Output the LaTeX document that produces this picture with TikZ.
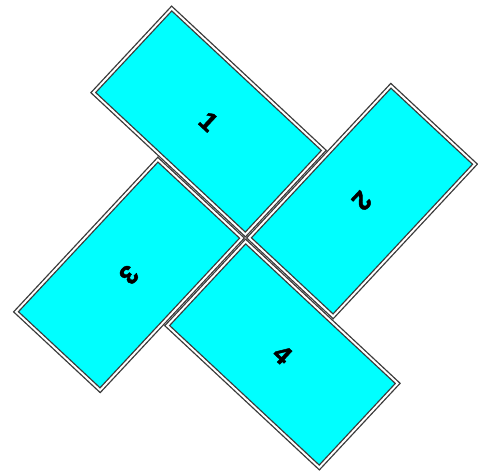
\documentclass[tikz,border=0pt]{standalone}
\usepackage{fontspec}
\setmainfont{Liberation Sans}
\newfontfamily\tilefont{Liberation Sans}[BoldFeatures={FakeBold=1.6}]
\usepackage{tikz}
\definecolor{Tile}{HTML}{00FFFF}
\definecolor{Edge}{HTML}{3A3A3A}
\tikzset{
  tile/.style={draw=Edge,double=white,double distance=1.1pt,line width=.75pt,fill=Tile,minimum width=4.16cm,minimum height=2.30cm,inner sep=0pt,font=\tilefont\fontsize{15}{15}\selectfont\bfseries},
  along/.style={tile,rotate=-43},
  across/.style={tile,rotate=-133}
}
\begin{document}
\begin{tikzpicture}
      \useasboundingbox (-4.91,-4.72) rectangle (4.65,4.76);
      \node[along] (t1) at (-0.739,2.330) {1};
      \node[across] (t2) at (2.330,0.739) {2};
      \node[across] (t3) at (-2.330,-0.739) {3};
      \node[along] (t4) at (0.739,-2.330) {4};
    \end{tikzpicture}
\end{document}
